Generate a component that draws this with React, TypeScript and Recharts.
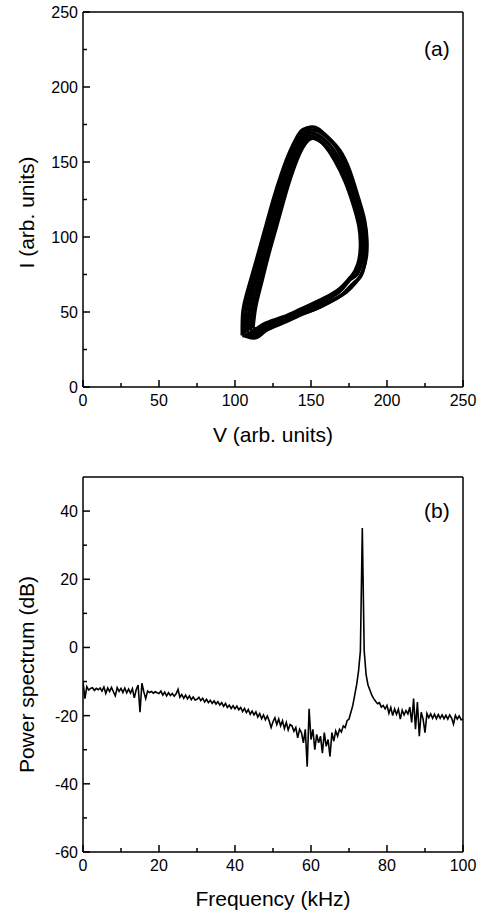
import React from 'react';
import { LineChart, Line, XAxis, YAxis, ReferenceLine } from 'recharts';

// (a) limit cycle in the V-I plane: several overlapping traces forming the band
const outerV = [104.8, 105.3, 109, 114, 119.5, 125, 130.5, 136, 141.4, 144.7, 150.2, 154.6, 161, 168.9, 175.4, 181, 185.3, 186.8, 186.4, 183.8, 179.8, 173.2, 164.5, 153.5, 142.5, 131.6, 120.6, 114, 107.5, 104.8];
const outerI = [34.4, 51, 66.7, 84.4, 104.4, 124.4, 142, 156.7, 167.8, 171.6, 173.3, 172.2, 166.7, 157.8, 144.4, 126.7, 111, 97.8, 86.7, 76.7, 70, 63.3, 57.8, 52.2, 47.8, 42.7, 37.8, 32.9, 33.8, 34.4];

const outer2V = [106.4, 107.4, 111, 115.9, 121.4, 127, 132.5, 137.9, 143, 146.1, 150.8, 157.3, 164.9, 171.4, 177.2, 182.3, 185, 185.7, 185, 182.3, 177.8, 171.7, 164, 153.5, 142.5, 131.6, 120.6, 114, 107.8, 106.4];
const outer2I = [35.4, 51.5, 67.2, 85, 105, 125, 142.6, 157, 167, 170, 171.3, 169, 162, 150.5, 134.4, 118, 104, 91.8, 81, 73.2, 69, 62.7, 57.5, 52.3, 48.3, 43.5, 38.8, 34.4, 35, 35.4];

const midV = [108, 109.5, 113, 117.8, 123.3, 128.9, 134.5, 139.8, 144.6, 147.5, 151.5, 160, 167.2, 173.8, 179.3, 183.5, 184.8, 183.6, 180.2, 175.7, 170.5, 163.6, 153.5, 142.5, 131.6, 120.6, 114, 108];
const midI = [36.4, 52, 67.8, 85.6, 105.6, 125.6, 143.2, 157.2, 166, 168.5, 169.2, 163.8, 154.4, 141.1, 124.4, 108.8, 95.6, 84.4, 75, 71.6, 65.2, 59.8, 54.4, 49.7, 44.7, 40.2, 35.8, 36.4];

const inner2V = [110, 111.6, 115.2, 119.8, 125.3, 130.8, 136.4, 141.7, 146.3, 150, 155.2, 162.8, 169.6, 175.7, 180.4, 183, 182.7, 180.3, 176.3, 171.5, 163.5, 153.5, 142.5, 131.6, 120.6, 114, 110];
const inner2I = [37.6, 52.7, 68.4, 86.2, 106.2, 126.2, 143.8, 157.5, 165.3, 167.2, 165, 157.5, 146, 130, 115, 100.5, 88.5, 79, 73.5, 68, 60.8, 55.5, 50.6, 45.7, 41.4, 37.4, 37.6];

const innerV = [111.8, 113.6, 117.3, 121.7, 127.2, 132.7, 138.2, 143.6, 148, 152.4, 159, 165.6, 172.1, 177.6, 181.6, 182.5, 180.9, 176.5, 171, 163.4, 153.5, 142.5, 131.6, 120.6, 114, 111.8];
const innerI = [38.9, 53.3, 68.9, 86.7, 106.7, 126.7, 144.4, 157.8, 164.4, 165.6, 161, 151, 137.8, 122.2, 106.7, 93.3, 82.2, 73.3, 67.1, 61.8, 56.7, 51.6, 46.7, 42.7, 38.9, 38.9];

const vTicks = [0, 25, 50, 75, 100, 125, 150, 175, 200, 225, 250];
const iTicks = [0, 25, 50, 75, 100, 125, 150, 175, 200, 225, 250];

// (b) power spectrum, 0 .. 100 kHz every 0.5 kHz
const freqStep = 0.5;
const powerDb = [
  -10, -15, -11.5, -12.5, -12, -11.8, -12.6, -12, -12.4, -11.9,
  -12.8, -11.6, -13.5, -11.9, -12.9, -11.7, -13, -14.2, -11.8, -12.9,
  -12, -13.2, -11.9, -13.3, -12.2, -13.4, -12.1, -14.8, -12.4, -11,
  -19, -10.5, -13, -15, -12.8, -13.2, -12.9, -13.4, -13, -13.3,
  -13.5, -12.8, -14, -13.1, -14.2, -13.3, -14.1, -13.5, -14.3, -13.6,
  -12.3, -14.6, -13.8, -14.9, -14, -15.1, -14.2, -15.3, -14.5, -15.4,
  -15.2, -14.6, -15.6, -14.9, -16, -15.2, -16.2, -15.5, -16.4, -15.7,
  -16.6, -15.9, -16.9, -16.2, -17.3, -16.4, -17.6, -16.9, -17.9, -17.1,
  -18, -17.2, -18.3, -17.6, -18.8, -17.9, -19.1, -18.2, -19.6, -18.7,
  -19.8, -18.9, -20.4, -19.4, -20.9, -19.8, -21.2, -20.1, -21.6, -23.5,
  -21.8, -20.6, -22.6, -21, -23, -21.5, -23.8, -22, -24.2, -22.6,
  -23, -24.6, -23.5, -26.5, -24, -25, -28, -24, -35, -18,
  -27, -24, -30, -25.5, -28, -26, -31, -25, -29, -27,
  -32, -25, -27.5, -24.5, -26, -24, -24.8, -23, -23.5, -21.5,
  -21, -19, -17, -14, -11, -7, -1, 35, -1, -8,
  -11, -12.5, -14, -15, -15.8, -16.5, -16.2, -17.5, -17, -18,
  -17, -19.3, -17.6, -20, -18, -19.6, -18.1, -21, -18.4, -19.8,
  -18.5, -19.5, -17.5, -22, -15, -24, -16, -26, -19, -21,
  -25, -19.4, -20.6, -19.5, -20.8, -19.6, -20.9, -19.7, -20.8, -19.8,
  -20.9, -19.9, -21, -19.8, -20.7, -22.5, -19.9, -21, -20.1, -21.2,
  -21,
];

const fTicks = [0, 10, 20, 30, 40, 50, 60, 70, 80, 90, 100];
const dbTicks = [-60, -50, -40, -30, -20, -10, 0, 10, 20, 30, 40];

const FONT = '"Liberation Sans", Arial, Helvetica, sans-serif';

const toLoop = (vs: number[], is: number[]) => vs.map((v, k) => ({ v, i: is[k] }));
const loops = [
  toLoop(outerV, outerI),
  toLoop(outer2V, outer2I),
  toLoop(midV, midI),
  toLoop(inner2V, inner2I),
  toLoop(innerV, innerI),
];

const spectrum = powerDb.map((p, k) => ({ f: k * freqStep, p }));

// ticks point into the plot; only every other one carries a number
const xTick = (labelEvery: number) => (props: any) => {
  const { x, y, payload } = props;
  const major = payload.value % labelEvery === 0;
  return (
    <g>
      <line x1={x} x2={x} y1={y} y2={y - (major ? 7 : 4)} stroke="#000" strokeWidth={1.5} />
      {major && (
        <text x={x} y={y + 19} textAnchor="middle" fontSize={16} fontFamily={FONT} fill="#000">
          {payload.value}
        </text>
      )}
    </g>
  );
};

const yTick = (labelEvery: number, offsetFrom: number) => (props: any) => {
  const { x, y, payload } = props;
  const major = (payload.value - offsetFrom) % labelEvery === 0;
  return (
    <g>
      <line x1={x} x2={x + (major ? 7 : 4)} y1={y} y2={y} stroke="#000" strokeWidth={1.5} />
      {major && (
        <text x={x - 5} y={y + 6} textAnchor="end" fontSize={16} fontFamily={FONT} fill="#000">
          {payload.value}
        </text>
      )}
    </g>
  );
};

const yTitle = (text: string, cx: number, shift: number) => (props: any) => {
  const { y, height } = props.viewBox;
  const cy = y + height / 2 + shift;
  return (
    <text
      x={cx}
      y={cy}
      transform={`rotate(-90, ${cx}, ${cy})`}
      textAnchor="middle"
      dy={7}
      fontSize={21}
      fontFamily={FONT}
      fill="#000"
    >
      {text}
    </text>
  );
};

const axisLine = { stroke: '#000', strokeWidth: 1.5 };

export default function App() {
  return (
    <div style={{ position: 'absolute', left: 0, top: 0, width: 482, height: 914, background: '#fff', fontFamily: FONT }}>
      <LineChart width={482} height={450} margin={{ top: 12, right: 19, bottom: 0, left: 0 }}>
        <XAxis
          type="number"
          dataKey="v"
          domain={[0, 250]}
          ticks={vTicks}
          allowDataOverflow
          height={63}
          tickSize={0}
          tickMargin={0}
          tickLine={false}
          axisLine={axisLine}
          tick={xTick(50)}
          interval={0}
          label={{ value: 'V (arb. units)', position: 'insideBottom', offset: 8, fill: '#000', fontSize: 21, fontFamily: FONT }}
        />
        <YAxis
          type="number"
          dataKey="i"
          domain={[0, 250]}
          ticks={iTicks}
          allowDataOverflow
          width={83}
          tickSize={0}
          tickMargin={0}
          tickLine={false}
          axisLine={axisLine}
          tick={yTick(50, 0)}
          interval={0}
          label={{ content: yTitle('I (arb. units)', 27, 13) }}
        />
        <ReferenceLine y={250} stroke="#000" strokeWidth={1.5} />
        <ReferenceLine x={250} stroke="#000" strokeWidth={1.5} />
        {loops.map((loop, k) => (
          <Line
            key={k}
            data={loop}
            dataKey="i"
            type="natural"
            stroke="#000"
            strokeWidth={3.5}
            dot={false}
            isAnimationActive={false}
          />
        ))}
      </LineChart>
      <div style={{ position: 'absolute', left: 424, top: 38, fontSize: 21, lineHeight: 1, color: '#000' }}>(a)</div>

      <LineChart width={482} height={464} data={spectrum} margin={{ top: 27, right: 19, bottom: 0, left: 0 }}>
        <XAxis
          type="number"
          dataKey="f"
          domain={[0, 100]}
          ticks={fTicks}
          allowDataOverflow
          height={62}
          tickSize={0}
          tickMargin={0}
          tickLine={false}
          axisLine={axisLine}
          tick={xTick(20)}
          interval={0}
          label={{ value: 'Frequency (kHz)', position: 'insideBottom', offset: 8, fill: '#000', fontSize: 21, fontFamily: FONT }}
        />
        <YAxis
          type="number"
          domain={[-60, 50]}
          ticks={dbTicks}
          allowDataOverflow
          width={83}
          tickSize={0}
          tickMargin={0}
          tickLine={false}
          axisLine={axisLine}
          tick={yTick(20, -60)}
          interval={0}
          label={{ content: yTitle('Power spectrum (dB)', 27, 10) }}
        />
        <ReferenceLine y={50} stroke="#000" strokeWidth={1.5} />
        <ReferenceLine x={100} stroke="#000" strokeWidth={1.5} />
        <Line dataKey="p" type="linear" stroke="#000" strokeWidth={1.6} dot={false} isAnimationActive={false} />
      </LineChart>
      <div style={{ position: 'absolute', left: 424, top: 500, fontSize: 21, lineHeight: 1, color: '#000' }}>(b)</div>
    </div>
  );
}
